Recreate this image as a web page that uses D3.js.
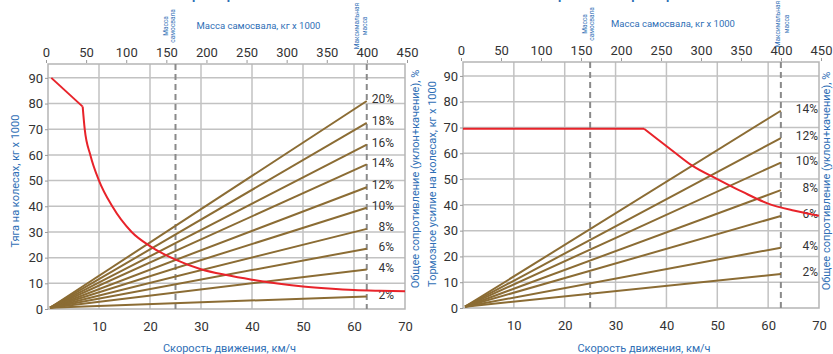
<!DOCTYPE html>
<html>
<head>
<meta charset="utf-8">
<script src="https://d3js.org/d3.v7.min.js"></script>
<style>
  body { margin: 0; background: #fff; overflow: hidden; }
  svg { display: block; }
  text { font-family: 'Liberation Sans Narrow', 'Roboto', 'Liberation Sans', sans-serif; }
  .tick-label { fill: #333; font-size: 13px; }
  .blue { fill: #2f6fb6; }
  .grid { stroke: #c2c2c2; stroke-width: 1.5px; }
</style>
</head>
<body>
<script>
// axes
const speedTicks = [10, 20, 30, 40, 50, 60, 70];
const forceTicks = [0, 10, 20, 30, 40, 50, 60, 70, 80, 90];
const massTicks = [0, 50, 100, 150, 200, 250, 300, 350, 400, 450];
const markerSpeeds = [25, 62.5]; // dashed lines: truck mass / max mass

// left panel: rimpull
const leftGrades = ['20%', '18%', '16%', '14%', '12%', '10%', '8%', '6%', '4%', '2%'];
const leftGradeEnds = [81, 72.5, 64, 56.3, 47.4, 39.4, 31.2, 23.5, 15.4, 4.9];
const rimpullSpeed = [0.65, 6.8, 7.2, 8.3, 10, 12.6, 16.4, 20, 25, 30, 35, 40, 45, 50, 55, 60, 65, 70];
const rimpullForce = [90, 78.8, 70, 60, 50, 40, 30, 24.5, 19.2, 15.5, 13.2, 11.4, 9.9, 8.8, 8, 7.4, 7.1, 6.9];
const rimpullKink = 1; // index where curve part begins

// right panel: braking
const rightGrades = ['14%', '12%', '10%', '8%', '6%', '4%', '2%'];
const rightGradeEnds = [76.5, 65.9, 56.4, 45.7, 35.7, 23.4, 13.2];
const brakeSpeed = [0, 35.6, 38, 41.5, 45, 50, 55, 60, 65, 70];
const brakeForce = [69.5, 69.5, 65.8, 60.5, 55.3, 50, 45, 40.5, 37.8, 35.8];
const brakeKink = 1;

const W = 833, H = 354;
const svg = d3.select('body').append('svg').attr('width', W).attr('height', H);

// partially visible titles at the very top
svg.append('text').attr('class', 'blue').attr('x', 200).attr('y', -1)
    .attr('text-anchor', 'middle').style('font-size', '13px').style('font-weight', 'bold')
    .text('Тяговые характеристики');
svg.append('text').attr('class', 'blue').attr('x', 630).attr('y', -1)
    .attr('text-anchor', 'middle').style('font-size', '13px').style('font-weight', 'bold')
    .text('Тормозные характеристики');

function drawPanel(cfg) {
    const x = d3.scaleLinear().domain([0, 70]).range([cfg.x0, cfg.x1]);
    const y = d3.scaleLinear().domain([0, 95.4]).range([cfg.yBot, cfg.yTop]);
    const m = d3.scaleLinear().domain([0, 450]).range([cfg.x0 - 2, cfg.x1 + 2]);
    const g = svg.append('g');

    // grid
    g.selectAll('.vg').data(speedTicks.filter((d) => d < 70)).join('line').attr('class', 'grid')
        .attr('x1', (d) => x(d)).attr('x2', (d) => x(d)).attr('y1', cfg.yTop).attr('y2', cfg.yBot);
    g.selectAll('.hg').data(forceTicks.filter((d) => d > 0)).join('line').attr('class', 'grid')
        .attr('x1', cfg.x0).attr('x2', cfg.x1).attr('y1', (d) => y(d)).attr('y2', (d) => y(d));
    g.append('rect').attr('x', cfg.x0).attr('y', cfg.yTop)
        .attr('width', cfg.x1 - cfg.x0).attr('height', cfg.yBot - cfg.yTop)
        .attr('fill', 'none').attr('stroke', '#b5b5b5').attr('stroke-width', 1.5);

    // dashed mass markers
    g.selectAll('.dash').data(markerSpeeds).join('line')
        .attr('x1', (d) => x(d)).attr('x2', (d) => x(d)).attr('y1', cfg.yTop).attr('y2', cfg.yBot)
        .attr('stroke', '#8a8a8a').attr('stroke-width', 2).attr('stroke-dasharray', '6,4');

    // bottom axis
    const bx = g.append('g').attr('transform', `translate(0,${cfg.yBot})`)
        .call(d3.axisBottom(x).tickValues(speedTicks).tickSize(0).tickPadding(13));
    bx.select('.domain').remove();
    bx.selectAll('text').attr('class', 'tick-label').attr('fill', null).style('font-size', '13px');

    // left axis
    const ly = g.append('g').attr('transform', `translate(${cfg.x0},0)`)
        .call(d3.axisLeft(y).tickValues(forceTicks).tickSize(3).tickPadding(2));
    ly.select('.domain').remove();
    ly.selectAll('line').attr('stroke', '#999');
    ly.selectAll('text').attr('class', 'tick-label').attr('fill', null).style('font-size', '13px');

    // top axis (mass)
    const tx = g.append('g').attr('transform', `translate(0,${cfg.yTop - 1})`)
        .call(d3.axisTop(m).tickValues(massTicks).tickSize(3).tickPadding(3));
    tx.select('.domain').remove();
    tx.selectAll('line').attr('stroke', '#999');
    tx.selectAll('text').attr('class', 'tick-label').attr('fill', null).style('font-size', '13px');

    // grade lines
    g.selectAll('.grade').data(cfg.ends).join('line')
        .attr('x1', x(0.4)).attr('y1', y(0.5))
        .attr('x2', x(markerSpeeds[1])).attr('y2', (d) => y(d))
        .attr('stroke', '#8b6c34').attr('stroke-width', 2);
    g.selectAll('.glab').data(cfg.ends).join('text').attr('class', 'tick-label')
        .attr('x', cfg.labelX).attr('y', (d) => y(d) - 2).attr('dy', '0.35em')
        .attr('text-anchor', 'end').style('font-size', '12px')
        .text((d, i) => cfg.grades[i]);

    // red curve: straight part then smooth part
    const pts = cfg.sx.map((s, i) => [x(s), y(cfg.sy[i])]);
    const straight = d3.line();
    const smooth = d3.line().curve(d3.curveMonotoneX);
    g.append('path').attr('d', straight(pts.slice(0, cfg.kink + 1)))
        .attr('fill', 'none').attr('stroke', '#e8232a').attr('stroke-width', 2);
    g.append('path').attr('d', smooth(pts.slice(cfg.kink)))
        .attr('fill', 'none').attr('stroke', '#e8232a').attr('stroke-width', 2);

    // titles
    g.append('text').attr('class', 'blue').attr('x', (cfg.x0 + cfg.x1) / 2 + 32).attr('y', cfg.yTop - 35)
        .attr('text-anchor', 'middle').style('font-size', '9.5px').text('Масса самосвала, кг х 1000');
    g.append('text').attr('class', 'blue').attr('x', x(35) + 3).attr('y', 352)
        .attr('text-anchor', 'middle').style('font-size', '11px').text('Скорость движения, км/ч');

    const small = [
        { dx: x(markerSpeeds[0]), off: cfg.offA, lines: ['Масса', 'самосвала'] },
        { dx: x(markerSpeeds[1]), off: cfg.offB, lines: ['Максимальная', 'масса'] },
    ];
    small.forEach((s) => {
        s.lines.forEach((t, i) => {
            g.append('text').attr('class', 'blue')
                .attr('transform', `translate(${s.dx + s.off[i]},${cfg.yTop - 38}) rotate(-90)`)
                .attr('text-anchor', 'middle').attr('dy', '0.35em')
                .style('font-size', '6.5px').text(t);
        });
    });
}

drawPanel({
    x0: 48, x1: 405, yTop: 64, yBot: 309,
    grades: leftGrades, ends: leftGradeEnds, labelX: 394,
    sx: rimpullSpeed, sy: rimpullForce, kink: rimpullKink,
    offA: [-10, -2.5], offB: [-10.5, -2],
});
drawPanel({
    x0: 463, x1: 819, yTop: 62, yBot: 308,
    grades: rightGrades, ends: rightGradeEnds, labelX: 818,
    sx: brakeSpeed, sy: brakeForce, kink: brakeKink,
    offA: [-5.5, 2], offB: [-3.5, 5.5],
});

// vertical axis titles
const vTitles = [
    { x: 15, y: 181, t: 'Тяга на колесах, кг х 1000' },
    { x: 415, y: 179, t: 'Общее сопротивление (уклон+качение), %' },
    { x: 432, y: 184, t: 'Тормозное усилие на колесах, кг х 1000' },
    { x: 826, y: 181, t: 'Общее сопротивление (уклон+качение), %' },
];
svg.selectAll('.vt').data(vTitles).join('text').attr('class', 'blue')
    .attr('transform', (d) => `translate(${d.x},${d.y}) rotate(-90)`)
    .attr('text-anchor', 'middle').attr('dy', '0.35em').style('font-size', '11px')
    .text((d) => d.t);
</script>
</body>
</html>
